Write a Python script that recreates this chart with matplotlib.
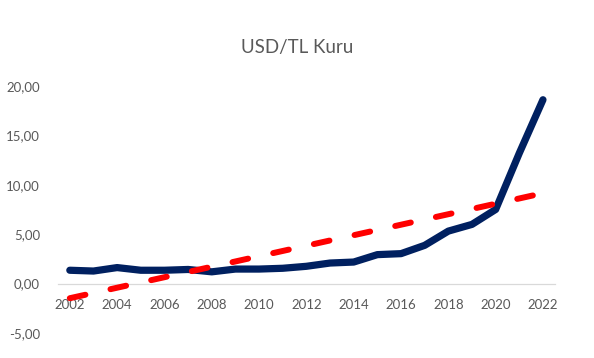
import numpy as np
import matplotlib
matplotlib.use("Agg")
import matplotlib.pyplot as plt
from matplotlib.ticker import FuncFormatter

# USD/TL yillik kur
years = [2002, 2003, 2004, 2005, 2006, 2007, 2008, 2009, 2010, 2011, 2012,
         2013, 2014, 2015, 2016, 2017, 2018, 2019, 2020, 2021, 2022]
usd_tl = [1.35, 1.27, 1.62, 1.35, 1.35, 1.43, 1.19, 1.47, 1.47, 1.55, 1.75,
          2.08, 2.18, 2.93, 3.03, 3.87, 5.31, 5.99, 7.50, 13.20, 18.60]
year_ticks = [2002, 2004, 2006, 2008, 2010, 2012, 2014, 2016, 2018, 2020, 2022]
y_ticks = [-5, 0, 5, 10, 15, 20]

plt.rcParams['font.family'] = ['Lato', 'DejaVu Sans']
plt.rcParams['lines.scale_dashes'] = False
grey = '#595959'

# dogrusal egilim cizgisi
coef = np.polyfit(years, usd_tl, 1)
trend = np.polyval(coef, years)

fig = plt.figure(figsize=(5.94, 3.58), dpi=100)
ax = fig.add_axes([0.0976, 0.0698, 0.8364, 0.6902])

ax.plot(years, usd_tl, color='#002060', linewidth=5.2,
        solid_capstyle='round', solid_joinstyle='round', zorder=3)
ax.plot(years, trend, color='#FF0000', linewidth=4.3,
        dashes=(11.5, 18.5), dash_capstyle='round', zorder=4)

ax.set_xlim(2001.5, 2022.5)
ax.set_ylim(-5, 20)
ax.set_xticks(year_ticks)
ax.set_yticks(y_ticks)
ax.yaxis.set_major_formatter(FuncFormatter(lambda v, p: f"{v:.2f}".replace('.', ',')))

for s in ['top', 'right', 'left']:
    ax.spines[s].set_visible(False)
ax.spines['bottom'].set_position(('data', 0))
ax.spines['bottom'].set_color('#D9D9D9')
ax.spines['bottom'].set_linewidth(0.9)

ax.tick_params(axis='both', length=0, labelsize=9.5, colors=grey)
ax.tick_params(axis='x', pad=11)
ax.tick_params(axis='y', pad=13)

fig.text(0.5, 1 - 48 / 358, 'USD/TL Kuru', ha='center', va='center',
         fontsize=13.5, color=grey)

fig.savefig('out.png', dpi=100)
